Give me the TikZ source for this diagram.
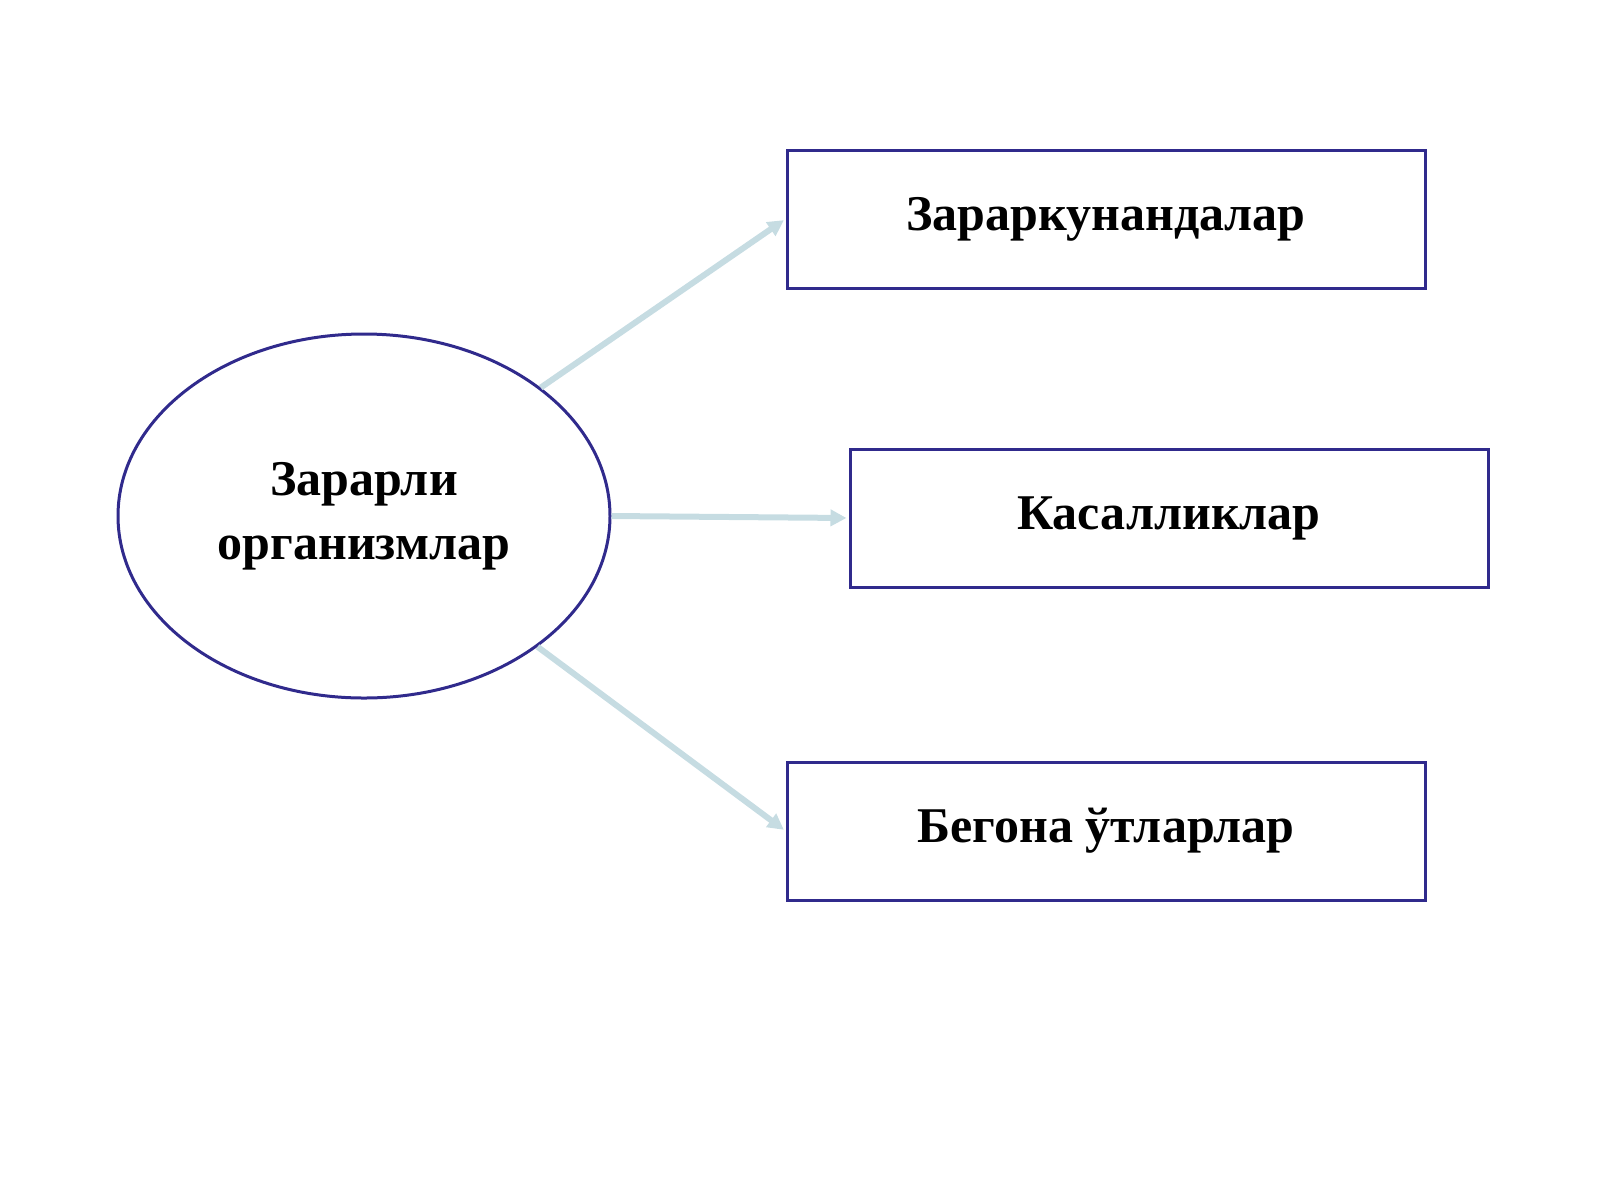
\documentclass[tikz,border=0pt]{standalone}
\usepackage{fontspec}
\setmainfont{Liberation Serif}
\usetikzlibrary{shapes.geometric,arrows.meta}
\definecolor{bord}{RGB}{48,42,140}
\definecolor{arr}{RGB}{198,220,226}
\begin{document}
\begin{tikzpicture}[x=1pt,y=-1pt,
  box/.style={draw=bord,line width=3pt,minimum width=638pt,minimum height=138pt,font=\fontsize{50}{58}\selectfont\bfseries},
  con/.style={draw=arr,line width=6pt,-{Triangle[length=16pt,width=16pt]},shorten >=2pt}]
\useasboundingbox (0,0) rectangle (1600,1200);
\node[ellipse,draw=bord,line width=3pt,minimum width=492pt,minimum height=364pt,align=center,font=\fontsize{50}{64}\selectfont\bfseries] (e) at (364,516) {Зарарли\\организмлар};
\node[box] (b1) at (1106,219) {Зараркунандалар};
\node[box] (b2) at (1169,518) {Касалликлар};
\node[box] (b3) at (1106,831) {Бегона ўтларлар};
\draw[con] (e.36) -- (b1.west);
\draw[con] (e.east) -- (b2.west);
\draw[con] (e.-37) -- (b3.west);
\end{tikzpicture}
\end{document}
